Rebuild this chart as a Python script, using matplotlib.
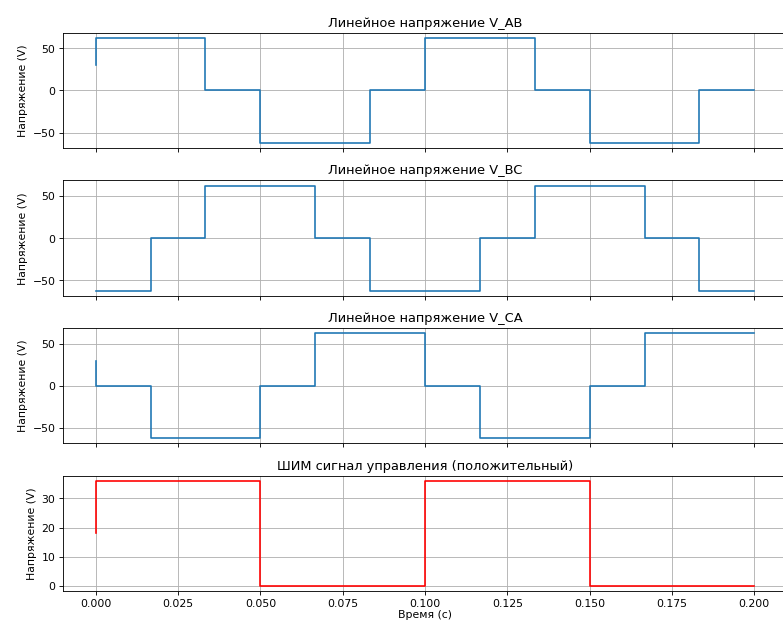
import numpy as np
import matplotlib.pyplot as plt

# breakpoints (time, s) and levels (V), drawn as steps-post
t_ab = [0.0, 0.0, 0.0333, 0.05, 0.0833, 0.1, 0.1333, 0.15, 0.1833, 0.2]
v_ab = [30.0, 62.35, 0.0, -62.35, 0.0, 62.35, 0.0, -62.35, 0.0, 0.0]

t_bc = [0.0, 0.0167, 0.0333, 0.0667, 0.0833, 0.1167, 0.1333, 0.1667, 0.1833, 0.2]
v_bc = [-62.35, 0.0, 62.35, 0.0, -62.35, 0.0, 62.35, 0.0, -62.35, -62.35]

t_ca = [0.0, 0.0, 0.0167, 0.05, 0.0667, 0.1, 0.1167, 0.15, 0.1667, 0.2]
v_ca = [30.0, 0.0, -62.35, 0.0, 62.35, 0.0, -62.35, 0.0, 62.35, 62.35]

t_pwm = [0.0, 0.0, 0.05, 0.1, 0.15, 0.2]
v_pwm = [18.0, 36.0, 0.0, 36.0, 0.0, 0.0]

titles = ['Линейное напряжение V_AB', 'Линейное напряжение V_BC',
          'Линейное напряжение V_CA', 'ШИМ сигнал управления (положительный)']

fig, axes = plt.subplots(4, 1, figsize=(10, 8), sharex=True)

series = [(t_ab, v_ab, 'C0'), (t_bc, v_bc, 'C0'), (t_ca, v_ca, 'C0'), (t_pwm, v_pwm, 'r')]
for ax, (t, v, c), title in zip(axes, series, titles):
    ax.plot(t, v, color=c, drawstyle='steps-post')
    ax.set_title(title)
    ax.set_ylabel('Напряжение (V)')
    ax.grid(True)

axes[-1].set_xlabel('Время (с)', labelpad=1)

# the original picture is cropped on the right, so the axes run past the edge
plt.subplots_adjust(left=63/783, right=787/783, top=1-33.3/628, bottom=1-593/628,
                    hspace=0.28)
plt.savefig('out.png', dpi=78.3)
